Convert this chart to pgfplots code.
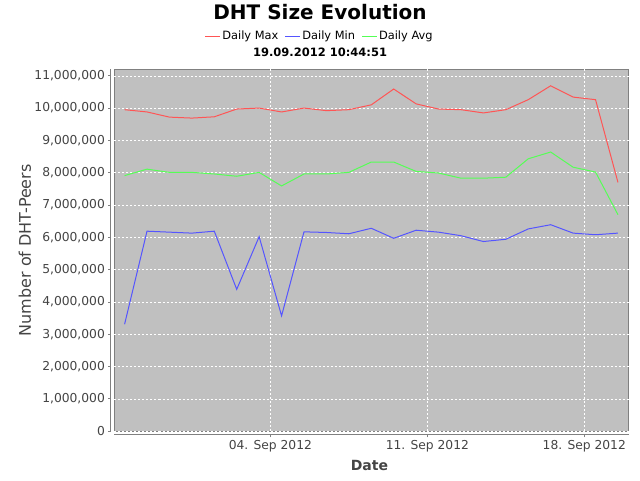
\documentclass[border=0pt]{standalone}
\usepackage{fontspec}
\setmainfont{DejaVu Sans}
\usepackage{pgfplots}
\usepackage{pgfplotstable}
\pgfplotsset{compat=1.18}
\definecolor{bgc}{RGB}{192,192,192}
\definecolor{axgray}{RGB}{128,128,128}
\definecolor{lblgray}{RGB}{68,68,68}
\definecolor{cmax}{RGB}{255,85,85}
\definecolor{cmin}{RGB}{85,85,255}
\definecolor{cavg}{RGB}{85,255,85}

\pgfplotstableread{
x max min avg
-6.5 9950000 3310000 7910000
-5.5 9880000 6190000 8110000
-4.5 9720000 6160000 8010000
-3.5 9690000 6130000 8010000
-2.5 9730000 6190000 7960000
-1.5 9970000 4390000 7890000
-0.5 10000000 6020000 8010000
0.5 9880000 3570000 7590000
1.5 10000000 6170000 7960000
2.5 9920000 6150000 7960000
3.5 9950000 6110000 8010000
4.5 10100000 6280000 8330000
5.5 10590000 5970000 8330000
6.5 10130000 6220000 8040000
7.5 9970000 6160000 7990000
8.5 9950000 6050000 7830000
9.5 9850000 5870000 7830000
10.5 9950000 5940000 7860000
11.5 10260000 6260000 8430000
12.5 10690000 6390000 8640000
13.5 10340000 6130000 8170000
14.5 10260000 6080000 8020000
15.5 7700000 6130000 6700000
}\datatable

\begin{document}
\begin{tikzpicture}
\useasboundingbox (0,0) rectangle (640pt,480pt);
\begin{axis}[
  at={(114.5pt,48.8pt)}, anchor=south west,
  scale only axis, width=514pt, height=361.9pt,
  xmin=-6.95, xmax=15.97, ymin=0, ymax=11200000,
  axis background/.style={fill=bgc, draw=axgray, line width=0.8pt},
  axis x line=bottom, axis y line=left,
  axis x line shift=3.6pt, axis y line shift=3.6pt,
  axis line style={draw=axgray, line width=0.8pt, -},
  tick align=outside, major tick length=2.5pt,
  tick style={draw=axgray, line width=0.8pt},
  xtick={0,7,14},
  xticklabels={04. Sep 2012, 11. Sep 2012, 18. Sep 2012},
  ytick={0,1000000,2000000,3000000,4000000,5000000,6000000,7000000,8000000,9000000,10000000,11000000},
  scaled y ticks=false,
  /pgf/number format/assume math mode=true,
  yticklabel style={/pgf/number format/.cd, fixed, precision=0, 1000 sep={,}},
  ticklabel style={font=\fontsize{12.3}{14}\selectfont, text=lblgray},
  grid=major,
  major grid style={draw=white, line width=0.5pt, dash pattern=on 2pt off 2pt},
  xlabel={\bfseries Date},
  xlabel style={at={(axis description cs:0.496,-0.1091)}, anchor=base, font=\fontsize{14}{16}\selectfont, text=lblgray},
  ylabel={Number of DHT-Peers},
  ylabel style={at={(axis description cs:-0.1625,0.5)}, anchor=base, rotate=0, font=\fontsize{16}{18}\selectfont, text=lblgray},
  legend columns=3,
  legend style={at={(axis description cs:0.3988,1.092)}, anchor=center, draw=none, fill=none,
    inner sep=0pt, font=\fontsize{11.4}{13}\selectfont,
    nodes={inner xsep=1.5pt, inner ysep=1pt},
    /tikz/every even column/.append style={column sep=5pt}},
  legend image code/.code={\draw[#1, line width=1pt] (0pt,0pt) -- (15pt,0pt);},
  clip=false,
]
\addplot[cmax, line width=1pt] table[x=x, y=max] {\datatable};
\addlegendentry{Daily Max}
\addplot[cmin, line width=1pt] table[x=x, y=min] {\datatable};
\addlegendentry{Daily Min}
\addplot[cavg, line width=1pt] table[x=x, y=avg] {\datatable};
\addlegendentry{Daily Avg}
\end{axis}
\node[anchor=base, font=\fontsize{20}{22}\selectfont\bfseries] at (320pt,460.7pt) {DHT Size Evolution};
\node[anchor=base, font=\fontsize{11.5}{13}\selectfont\bfseries] at (320pt,423.3pt) {19.09.2012 10:44:51};
\end{tikzpicture}
\end{document}
